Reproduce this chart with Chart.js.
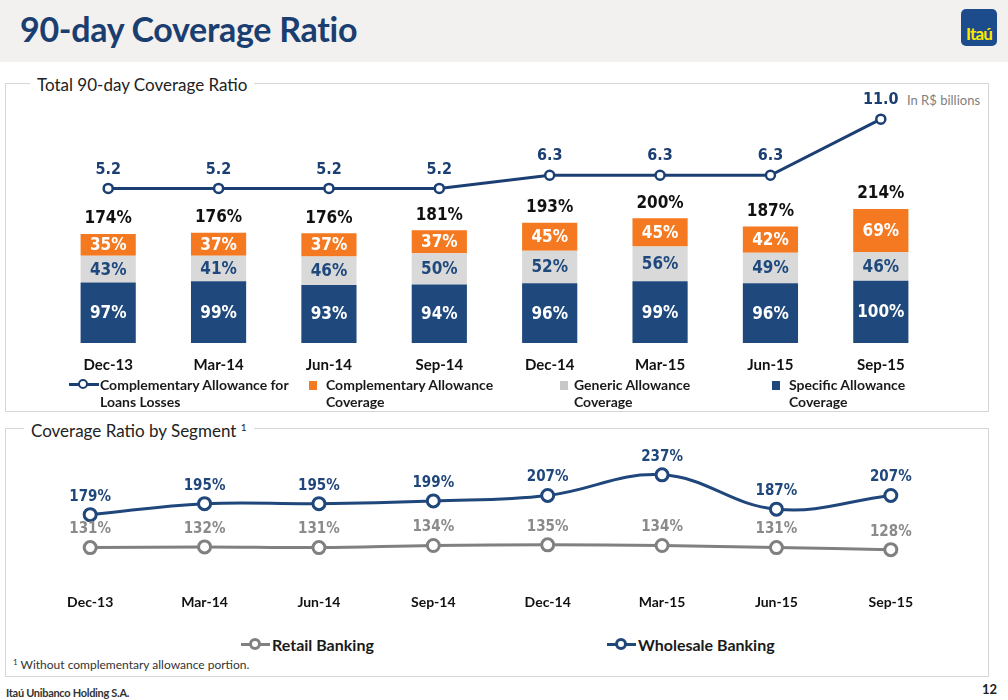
<!DOCTYPE html>
<html>
<head>
<meta charset="utf-8">
<script src="https://cdn.jsdelivr.net/npm/chart.js@4.4.1/dist/chart.umd.min.js"></script>
<style>
  html, body { margin:0; padding:0; background:#fff; }
  body { width:1008px; height:700px; position:relative; overflow:hidden; font-family: Lato, 'Open Sans', sans-serif; }
  .abs { position:absolute; }
  #header { left:0; top:0; width:1008px; height:62px; background:#f3f1ef; }
  #title { left:20px; top:8px; font: bold 34px Lato, sans-serif; color:#1b3e70; letter-spacing:-0.3px; white-space:nowrap; }
  #logo { left:961px; top:9px; width:36px; height:37px; background:#1c4c8c; border-radius:5px; color:#ffe800; font: bold 17px Lato, sans-serif; text-align:center; line-height:50px; letter-spacing:-0.8px; }
  .panel { border:1.5px solid #d6d6d6; box-sizing:border-box; }
  #p1 { left:5px; top:83px; width:984px; height:329px; }
  #p2 { left:5px; top:428px; width:984px; height:249px; }
  .ptitle { background:#fff; padding:0 7px; font: 17px Lato, sans-serif; color:#222; white-space:nowrap; }
  #t1 { left:30px; top:74px; }
  #t2 { left:24px; top:420px; }
  #t2 sup { font-size:10px; vertical-align:6px; }
  canvas { position:absolute; }
  .leg { font: bold 14px Lato, sans-serif; color:#1a1a1a; line-height:17px; white-space:nowrap; }
  .sq { width:8px; height:9px; }
  .lineicon { height:3px; }
  .dot { width:6px; height:6px; border-radius:50%; background:#fff; }
  #note { left:13px; top:657px; font: 12px Lato, sans-serif; color:#333; white-space:nowrap; }
  #note sup { font-size:8px; vertical-align:4px; }
  #footer { left:6px; top:686px; font: bold 11px Lato, sans-serif; color:#333; white-space:nowrap; letter-spacing:-0.3px;}
  #page { left:982px; top:681px; font: bold 13px Lato, sans-serif; color:#222; }
  #unit { left:907px; top:92px; font: 13px Lato, sans-serif; color:#7f7f7f; white-space:nowrap; }
</style>
</head>
<body>
<div id="header" class="abs"></div>
<div id="title" class="abs">90-day Coverage Ratio</div>
<div id="logo" class="abs">Itaú</div>

<div id="p1" class="abs panel"></div>
<div id="t1" class="abs ptitle">Total 90-day Coverage Ratio</div>
<div id="p2" class="abs panel"></div>
<div id="t2" class="abs ptitle">Coverage Ratio by Segment <sup>1</sup></div>
<div id="unit" class="abs">In R$ billions</div>

<canvas id="c1" width="1008" height="297" style="left:0;top:90px;"></canvas>
<canvas id="c2" width="1008" height="184" style="left:0;top:445px;"></canvas>

<!-- top legend -->
<div class="abs lineicon" style="left:69px;top:383px;width:30px;background:#1b3f72;"></div>
<div class="abs dot" style="left:78px;top:379px;border:2.5px solid #1b3f72;"></div>
<div class="abs leg" style="left:100px;top:376px;">Complementary Allowance for<br>Loans Losses</div>
<div class="abs sq" style="left:309px;top:381px;background:#f47920;"></div>
<div class="abs leg" style="left:326px;top:376px;">Complementary Allowance<br>Coverage</div>
<div class="abs sq" style="left:560px;top:381px;background:#c8c8c8;"></div>
<div class="abs leg" style="left:574px;top:376px;">Generic Allowance<br>Coverage</div>
<div class="abs sq" style="left:772px;top:381px;background:#1f497d;"></div>
<div class="abs leg" style="left:789px;top:376px;">Specific Allowance<br>Coverage</div>

<!-- bottom legend -->
<div class="abs lineicon" style="left:241px;top:643px;width:29px;background:#808080;"></div>
<div class="abs dot" style="left:249px;top:638px;border:3px solid #808080;"></div>
<div class="abs leg" style="left:272px;top:636px;font-size:16px;">Retail Banking</div>
<div class="abs lineicon" style="left:607px;top:643px;width:29px;background:#1f477b;"></div>
<div class="abs dot" style="left:615px;top:638px;border:3px solid #1f477b;"></div>
<div class="abs leg" style="left:638px;top:636px;font-size:16px;">Wholesale Banking</div>

<div id="note" class="abs"><sup>1</sup> Without complementary allowance portion.</div>
<div id="footer" class="abs">Itaú Unibanco Holding S.A.</div>
<div id="page" class="abs">12</div>

<script>
// ---- data ----
const months = ['Dec-13','Mar-14','Jun-14','Sep-14','Dec-14','Mar-15','Jun-15','Sep-15'];
const specificCoverage = [97, 99, 93, 94, 96, 99, 96, 100];
const genericCoverage = [43, 41, 46, 50, 52, 56, 49, 46];
const complementaryCoverage = [35, 37, 37, 37, 45, 45, 42, 69];
const totalCoverage = [174, 176, 176, 181, 193, 200, 187, 214];
const complementaryAllowance = [5.2, 5.2, 5.2, 5.2, 6.3, 6.3, 6.3, 11.0];
const retailBanking = [131, 132, 131, 134, 135, 134, 131, 128];
const wholesaleBanking = [179, 195, 195, 199, 207, 237, 187, 207];

const NAVY = '#1f497d', LINE = '#1b3f72', ORANGE = '#f47920', GREY = '#d9d9d9';
const NUMFONT = "'DejaVu Sans Condensed', 'DejaVu Sans', sans-serif";

// label settings per chart / dataset index
const labelCfg = {
  c1: {
    0: {pos:'center', color:'#ffffff', font:'bold 17px ' + NUMFONT, fmt:v => v + '%'},
    1: {pos:'center', color:NAVY, font:'bold 17px ' + NUMFONT, fmt:v => v + '%'},
    2: {pos:'center', color:'#ffffff', font:'bold 17px ' + NUMFONT, fmt:v => v + '%',
        total:{arr: totalCoverage, color:'#111', font:'bold 17px ' + NUMFONT, offset:15}},
    3: {pos:'above', offset:20, color:LINE, font:'bold 16px ' + NUMFONT, fmt:v => v.toFixed(1)}
  },
  c2: {
    0: {pos:'above', offset:19, color:'#8a8a8a', font:'bold 15px ' + NUMFONT, fmt:v => v + '%'},
    1: {pos:'above', offset:19, color:'#1f477b', font:'bold 15px ' + NUMFONT, fmt:v => v + '%'}
  }
};

const valueLabels = {
  id: 'valueLabels',
  afterDatasetsDraw(chart) {
    const cfgs = labelCfg[chart.canvas.id];
    const ctx = chart.ctx;
    chart.data.datasets.forEach((ds, di) => {
      const cfg = cfgs[di]; if (!cfg) return;
      const meta = chart.getDatasetMeta(di);
      ctx.save();
      ctx.textAlign = 'center'; ctx.textBaseline = 'middle';
      meta.data.forEach((el, i) => {
        ctx.font = cfg.font; ctx.fillStyle = cfg.color;
        let y = cfg.pos === 'center' ? (el.y + el.base) / 2 : el.y - cfg.offset;
        ctx.fillText(cfg.fmt(ds.data[i]), el.x, y + 1);
        if (cfg.total) {
          ctx.font = cfg.total.font; ctx.fillStyle = cfg.total.color;
          ctx.fillText(cfg.total.arr[i] + '%', el.x, el.y - cfg.total.offset);
        }
      });
      ctx.restore();
    });
  }
};

const tickFontTop = {family:'Lato', weight:'bold', size:15};

new Chart(document.getElementById('c1'), {
  data: {
    labels: months,
    datasets: [
      {type:'bar', label:'Specific Allowance Coverage', data:specificCoverage, backgroundColor:NAVY, yAxisID:'y', order:1, barPercentage:0.5, categoryPercentage:1},
      {type:'bar', label:'Generic Allowance Coverage', data:genericCoverage, backgroundColor:GREY, yAxisID:'y', order:1, barPercentage:0.5, categoryPercentage:1},
      {type:'bar', label:'Complementary Allowance Coverage', data:complementaryCoverage, backgroundColor:ORANGE, yAxisID:'y', order:1, barPercentage:0.5, categoryPercentage:1},
      {type:'line', label:'Complementary Allowance for Loans Losses', data:complementaryAllowance, yAxisID:'y2', order:0,
        borderColor:LINE, borderWidth:3, pointRadius:4.5, pointBorderWidth:2.5, pointBackgroundColor:'#fff', pointBorderColor:LINE,
        tension:0, fill:false}
    ]
  },
  options: {
    responsive:false, animation:false,
    layout:{autoPadding:false, padding:{left:53, right:72, top:0, bottom:0}},
    plugins:{legend:{display:false}, tooltip:{enabled:false}},
    scales:{
      x:{stacked:true, grid:{display:false, drawTicks:false}, border:{display:false},
         ticks:{color:'#111', font:tickFontTop, padding:13, maxRotation:0}},
      y:{stacked:true, display:false, min:0, max:406},
      y2:{display:false, min:-7.74, max:13.44}
    }
  },
  plugins:[valueLabels]
});

new Chart(document.getElementById('c2'), {
  type:'line',
  data: {
    labels: months,
    datasets: [
      {label:'Retail Banking', data:retailBanking, borderColor:'#808080', borderWidth:3, pointRadius:6, pointBorderWidth:3,
        pointBackgroundColor:'#fff', pointBorderColor:'#808080', tension:0.4, fill:false},
      {label:'Wholesale Banking', data:wholesaleBanking, borderColor:'#1f477b', borderWidth:3, pointRadius:6, pointBorderWidth:3,
        pointBackgroundColor:'#fff', pointBorderColor:'#1f477b', tension:0.4, fill:false}
    ]
  },
  options: {
    responsive:false, animation:false,
    layout:{autoPadding:false, padding:{left:33, right:60, top:0, bottom:0}},
    plugins:{legend:{display:false}, tooltip:{enabled:false}},
    scales:{
      x:{offset:true, grid:{display:false, drawTicks:false}, border:{display:false},
         ticks:{color:'#111', font:{family:'Lato', weight:'bold', size:14}, padding:18, maxRotation:0}},
      y:{display:false, min:89.3, max:280.5}
    }
  },
  plugins:[valueLabels]
});
</script>
</body>
</html>
